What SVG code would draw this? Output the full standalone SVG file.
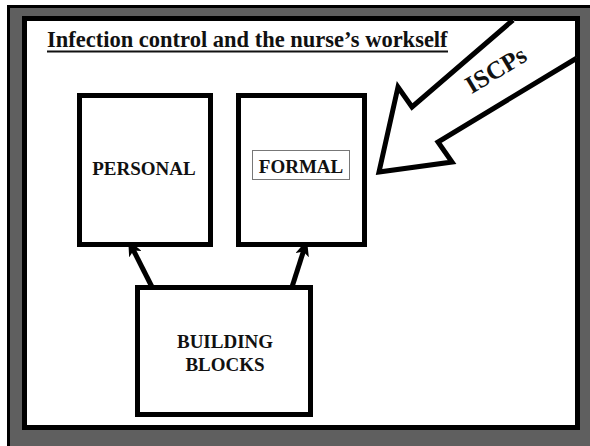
<svg xmlns="http://www.w3.org/2000/svg" width="590" height="446" viewBox="0 0 590 446">
  <style>
    .serif { font-family: "Liberation Serif", Tinos, "Times New Roman", Times, "DejaVu Serif", serif; font-weight: bold; fill: #111111; }
    .box { fill: #ffffff; stroke: #000000; stroke-width: 5; }
    .lbl { font-size: 19px; text-anchor: middle; }
    .conn { stroke: #000000; stroke-width: 5; fill: none; }
  </style>
  <defs>
    <marker id="head" viewBox="0 0 16 14" refX="8" refY="7" markerWidth="16" markerHeight="14" markerUnits="userSpaceOnUse" orient="auto">
      <path d="M0,0 L16,7 L0,14 L4,7 z" fill="#000000"/>
    </marker>
  </defs>

  <!-- slide frame -->
  <rect x="0" y="0" width="590" height="446" fill="#ffffff"/>
  <rect x="8.5" y="6.5" width="590" height="450" fill="#5f5f5f" stroke="#000000" stroke-width="3"/>
  <rect x="24.5" y="18.5" width="553" height="409" fill="#ffffff" stroke="#000000" stroke-width="5"/>

  <!-- title -->
  <g id="title">
    <text class="serif" x="47" y="47" font-size="22.5">Infection control and the nurse’s workself</text>
    <line x1="47" y1="51.5" x2="448" y2="51.5" stroke="#111111" stroke-width="2"/>
  </g>

  <!-- connectors -->
  <g id="connectors">
    <line class="conn" x1="152" y1="287" x2="131.8" y2="247" marker-end="url(#head)"/>
    <line class="conn" x1="292" y1="287" x2="304.6" y2="247.6" marker-end="url(#head)"/>
  </g>

  <g id="personal">
    <rect class="box" x="79.5" y="95.5" width="131" height="149"/>
    <text class="serif lbl" x="144" y="175">PERSONAL</text>
  </g>

  <g id="formal">
    <rect class="box" x="238.5" y="95.5" width="126" height="149"/>
    <rect x="252.5" y="150.5" width="97" height="29" fill="none" stroke="#777777" stroke-width="1"/>
    <text class="serif lbl" x="301" y="173">FORMAL</text>
  </g>

  <g id="building-blocks">
    <rect class="box" x="137.5" y="287.5" width="173" height="127"/>
    <text class="serif lbl" x="225" y="348">BUILDING</text>
    <text class="serif lbl" x="225" y="371">BLOCKS</text>
  </g>

  <!-- large incoming arrow -->
  <g id="iscps">
    <path d="M513,20 L412,107 L398,87 L379,172 L452,162 L438,142 L577,58" fill="#ffffff" stroke="#000000" stroke-width="5" stroke-linejoin="miter"/>
    <text class="serif" x="500" y="77" transform="rotate(-31 500 77)" font-size="25" text-anchor="middle">ISCPs</text>
  </g>
</svg>
